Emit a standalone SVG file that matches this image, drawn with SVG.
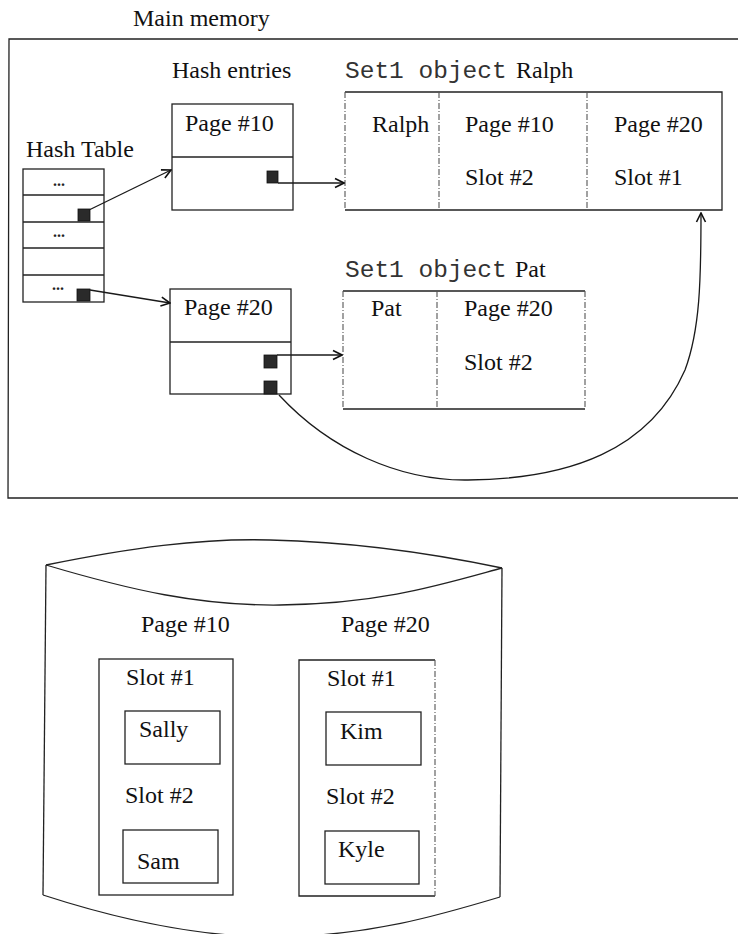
<svg xmlns="http://www.w3.org/2000/svg" width="738" height="934" viewBox="0 0 738 934">
<style>
.t{font-family:"Liberation Serif","Times New Roman",serif;font-size:24px;fill:#111}
.m{font-family:"Liberation Mono","Courier New",monospace;font-size:24.5px;fill:#333}
.dots{font-family:"Liberation Serif",serif;font-size:16px;fill:#222;font-weight:bold}
.b{fill:none;stroke:#222;stroke-width:1.3}
.d{fill:none;stroke:#555;stroke-width:1.1;stroke-dasharray:6 2 1 2}
.sq{fill:#2a2a2a;stroke:#111;stroke-width:0.8}
.c{fill:none;stroke:#1a1a1a;stroke-width:1.3}
</style>
<defs>
<marker id="ah" markerUnits="userSpaceOnUse" markerWidth="12" markerHeight="12" viewBox="0 0 12 12" refX="11" refY="6" orient="auto">
<path d="M2,1.5 L11,6 L2,10.5" fill="none" stroke="#111" stroke-width="1.6"/>
</marker>
</defs>

<g id="main-memory">
<text class="t" x="133" y="26">Main memory</text>
<path class="b" d="M745,39 L9,39 L8,498 L745,498"/>
</g>

<g id="hash-table">
<text class="t" x="26" y="157">Hash Table</text>
<rect class="b" x="23" y="169" width="81" height="133"/>
<line class="b" x1="23" y1="195" x2="104" y2="195"/>
<line class="b" x1="23" y1="222" x2="104" y2="222"/>
<line class="b" x1="23" y1="248" x2="104" y2="248"/>
<line class="b" x1="23" y1="275" x2="104" y2="275"/>
<text class="dots" x="53" y="186">...</text>
<text class="dots" x="53" y="237">...</text>
<text class="dots" x="52" y="290">...</text>
<rect class="sq" x="78" y="209" width="12" height="12"/>
<rect class="sq" x="77" y="289" width="13" height="12"/>
</g>

<g id="hash-entries-label">
<text class="t" x="172" y="78">Hash entries</text>
</g>

<g id="hash-entry-10">
<rect class="b" x="172" y="104" width="121" height="106"/>
<line class="b" x1="172" y1="157" x2="293" y2="157"/>
<text class="t" x="185" y="131">Page #10</text>
<rect class="sq" x="267" y="171" width="11" height="12"/>
</g>

<g id="hash-entry-20">
<rect class="b" x="170" y="289" width="121" height="105"/>
<line class="b" x1="170" y1="342" x2="291" y2="342"/>
<text class="t" x="184" y="315">Page #20</text>
<rect class="sq" x="264" y="355" width="13" height="13"/>
<rect class="sq" x="264" y="381" width="13" height="13"/>
</g>

<g id="set1-ralph">
<text class="m" x="345" y="78">Set1 object</text>
<text class="t" x="516" y="78">Ralph</text>
<path class="b" d="M345,92 L722,92 L722,210 L345,210"/>
<line class="d" x1="345" y1="92" x2="345" y2="210"/>
<line class="d" x1="439" y1="92" x2="439" y2="210"/>
<line class="d" x1="587" y1="92" x2="587" y2="210"/>
<text class="t" x="372" y="132">Ralph</text>
<text class="t" x="465" y="132">Page #10</text>
<text class="t" x="614" y="132">Page #20</text>
<text class="t" x="465" y="185">Slot #2</text>
<text class="t" x="614" y="185">Slot #1</text>
</g>

<g id="set1-pat">
<text class="m" x="345" y="277">Set1 object</text>
<text class="t" x="515" y="277">Pat</text>
<path class="b" d="M585,291 L343,291 M343,409 L585,409"/>
<line class="d" x1="343" y1="291" x2="343" y2="409"/>
<line class="d" x1="437" y1="291" x2="437" y2="409"/>
<line class="d" x1="585" y1="291" x2="585" y2="409"/>
<text class="t" x="371" y="316">Pat</text>
<text class="t" x="464" y="316">Page #20</text>
<text class="t" x="464" y="370">Slot #2</text>
</g>

<g id="connectors">
<line class="c" x1="89" y1="210" x2="171" y2="170" marker-end="url(#ah)"/>
<line class="c" x1="278" y1="183" x2="344" y2="183" marker-end="url(#ah)"/>
<line class="c" x1="90" y1="290" x2="170" y2="303" marker-end="url(#ah)"/>
<line class="c" x1="277" y1="355" x2="342" y2="355" marker-end="url(#ah)"/>
<path class="c" d="M279,395 C330,450 400,481 468,480 C570,479 650,450 685,370 C700,330 701,280 701,213" marker-end="url(#ah)"/>
</g>

<g id="disk">
<path class="b" d="M46,565 C130,548 200,538 270,540 C360,542 440,555 502,568"/>
<path class="b" d="M46,565 C130,590 200,606 280,605 C380,604 440,585 502,568"/>
<path class="b" d="M46,565 L43,895"/>
<path class="b" d="M502,568 L500,897"/>
<path class="b" d="M43,895 C120,920 200,937 275,937 C370,936 440,915 500,897"/>
</g>

<g id="disk-page-10">
<text class="t" x="141" y="632">Page #10</text>
<rect class="b" x="99" y="659" width="134" height="236"/>
<text class="t" x="126" y="685">Slot #1</text>
<rect class="b" x="125" y="711" width="95" height="53"/>
<text class="t" x="139" y="737">Sally</text>
<text class="t" x="125" y="803">Slot #2</text>
<rect class="b" x="123" y="830" width="95" height="53"/>
<text class="t" x="137" y="869">Sam</text>
</g>

<g id="disk-page-20">
<text class="t" x="341" y="632">Page #20</text>
<path class="b" d="M435,660 L299,660 L299,896 L435,896"/>
<line class="d" x1="435" y1="660" x2="435" y2="896"/>
<text class="t" x="327" y="686">Slot #1</text>
<rect class="b" x="326" y="712" width="95" height="53"/>
<text class="t" x="340" y="739">Kim</text>
<text class="t" x="326" y="804">Slot #2</text>
<rect class="b" x="325" y="831" width="94" height="53"/>
<text class="t" x="338" y="857">Kyle</text>
</g>
</svg>
